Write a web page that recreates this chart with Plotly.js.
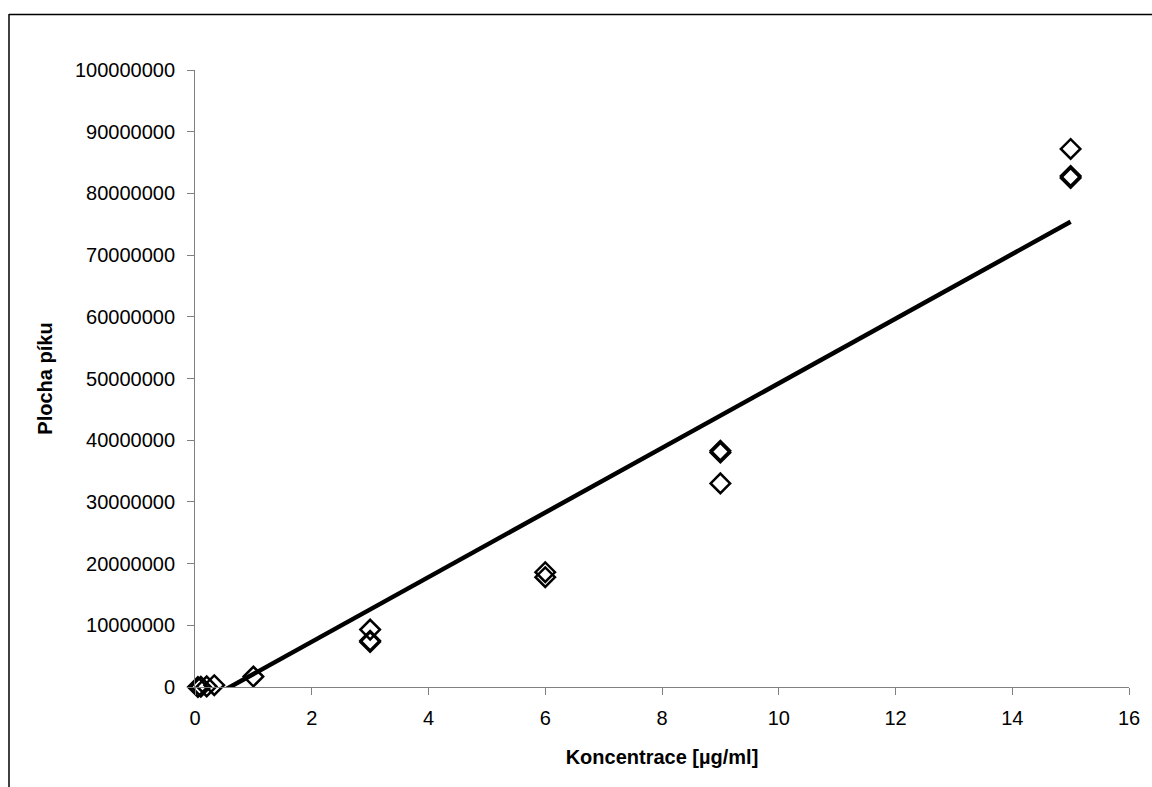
<!DOCTYPE html>
<html>
<head>
<meta charset="utf-8">
<script src="https://cdn.plot.ly/plotly-3.0.1.min.js"></script>
<style>
html,body{margin:0;padding:0;background:#fff;}
#chart{width:1152px;height:787px;}
</style>
</head>
<body>
<div id="chart"></div>
<script>
// Measured data (concentration in µg/ml, peak area)
var concentrace = [0.05, 0.1, 0.2, 0.33, 1, 3, 3, 3, 6, 6, 9, 9, 9, 15, 15, 15];
var plochaPiku = [0, 50000, 100000, 300000, 1700000, 9300000, 7500000, 7300000, 18600000, 17800000, 38300000, 38000000, 33000000, 87200000, 82800000, 82500000];

// Linear trendline endpoints
var trendX = [0, 15];
var trendY = [-3140000, 75400000];

var xTitle = 'Koncentrace [µg/ml]';
var yTitle = 'Plocha píku';

var font = 'Liberation Sans, Arial, sans-serif';

var traces = [
  {
    x: trendX, y: trendY, type: 'scatter', mode: 'lines',
    line: {color: '#000000', width: 4.5},
    hoverinfo: 'skip', showlegend: false
  },
  {
    x: concentrace, y: plochaPiku, type: 'scatter', mode: 'markers',
    cliponaxis: false,
    marker: {symbol: 'diamond-open', size: 15, color: '#000000', line: {color: '#000000', width: 2.5}},
    showlegend: false
  }
];

// border of the chart area (extends past right/bottom edges)
var L = 195, R = 23, T = 70, B = 100, W = 1152, H = 787;
var pw = W - L - R, ph = H - T - B;
function px2paperX(p){ return (p - L) / pw; }
function px2paperY(p){ return (H - B - p) / ph; }

var layout = {
  width: W, height: H,
  margin: {l: L, r: R, t: T, b: B, pad: 0},
  paper_bgcolor: '#ffffff', plot_bgcolor: '#ffffff',
  font: {family: font, size: 20, color: '#000000'},
  showlegend: false,
  xaxis: {
    range: [0, 16], dtick: 2, tick0: 0,
    showgrid: false, zeroline: false,
    showline: true, linecolor: '#808080', linewidth: 1,
    ticks: 'outside', ticklen: 7, tickcolor: '#808080', tickwidth: 1,
    ticklabelstandoff: 6,
    tickfont: {family: font, size: 20, color: '#000000'},
    title: {text: xTitle, font: {family: font, size: 20, color: '#000000', weight: 'bold'}, standoff: 21}
  },
  yaxis: {
    range: [0, 100000000], dtick: 10000000, tick0: 0,
    tickformat: 'd',
    showgrid: false, zeroline: false,
    showline: true, linecolor: '#808080', linewidth: 1,
    ticks: 'outside', ticklen: 7, tickcolor: '#808080', tickwidth: 1,
    ticklabelstandoff: 8,
    tickfont: {family: font, size: 20, color: '#000000'},
    title: {text: yTitle, font: {family: font, size: 20, color: '#000000', weight: 'bold'}, standoff: 16}
  },
  shapes: [
    {type: 'line', xref: 'paper', yref: 'paper',
     x0: px2paperX(9), x1: px2paperX(1160), y0: px2paperY(14.5), y1: px2paperY(14.5),
     line: {color: '#000000', width: 1.5}},
    {type: 'line', xref: 'paper', yref: 'paper',
     x0: px2paperX(9), x1: px2paperX(9), y0: px2paperY(14), y1: px2paperY(800),
     line: {color: '#000000', width: 1.5}}
  ]
};

Plotly.newPlot('chart', traces, layout, {displayModeBar: false, staticPlot: true});
</script>
</body>
</html>
